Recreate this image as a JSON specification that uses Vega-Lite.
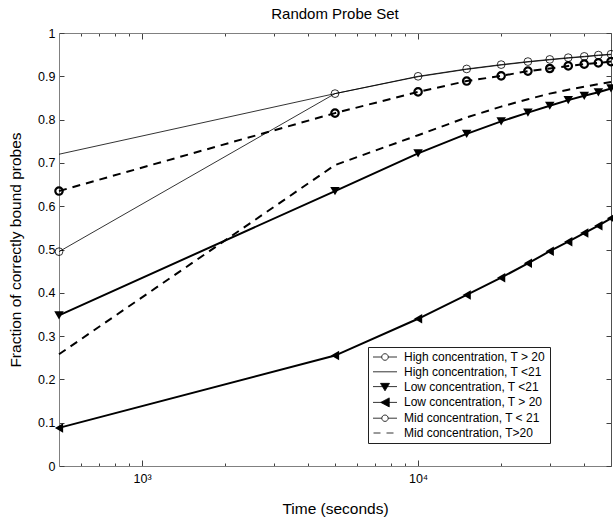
{
  "$schema": "https://vega.github.io/schema/vega-lite/v6.json",
  "width": 552,
  "height": 433,
  "autosize": {"type": "none"},
  "padding": {"left": 59, "top": 33, "right": 2, "bottom": 55},
  "background": "white",
  "config": {
    "font": "Liberation Sans",
    "view": {"stroke": null},
    "axis": {"grid": false, "labelColor": "black", "labelFontSize": 12.5, "titleColor": "black", "titleFontSize": 15.5, "titleFontWeight": "normal", "domainColor": "#808080", "tickColor": "#404040", "labelOverlap": false, "labelBound": false}
  },
  "title": {"text": "Random Probe Set", "fontSize": 15, "fontWeight": "normal", "color": "black", "offset": 5},
  "datasets": {
    "curves": [
      {"series": "High concentration, T > 20", "t": 500, "frac": 0.495},
      {"series": "High concentration, T > 20", "t": 5000, "frac": 0.86},
      {"series": "High concentration, T > 20", "t": 10000, "frac": 0.9},
      {"series": "High concentration, T > 20", "t": 15000, "frac": 0.917},
      {"series": "High concentration, T > 20", "t": 20000, "frac": 0.927},
      {"series": "High concentration, T > 20", "t": 25000, "frac": 0.934},
      {"series": "High concentration, T > 20", "t": 30000, "frac": 0.939},
      {"series": "High concentration, T > 20", "t": 35000, "frac": 0.943},
      {"series": "High concentration, T > 20", "t": 40000, "frac": 0.946},
      {"series": "High concentration, T > 20", "t": 45000, "frac": 0.949},
      {"series": "High concentration, T > 20", "t": 50000, "frac": 0.951},
      {"series": "High concentration, T <21", "t": 500, "frac": 0.72},
      {"series": "High concentration, T <21", "t": 5000, "frac": 0.86},
      {"series": "High concentration, T <21", "t": 10000, "frac": 0.899},
      {"series": "High concentration, T <21", "t": 15000, "frac": 0.916},
      {"series": "High concentration, T <21", "t": 20000, "frac": 0.926},
      {"series": "High concentration, T <21", "t": 25000, "frac": 0.933},
      {"series": "High concentration, T <21", "t": 30000, "frac": 0.938},
      {"series": "High concentration, T <21", "t": 35000, "frac": 0.942},
      {"series": "High concentration, T <21", "t": 40000, "frac": 0.945},
      {"series": "High concentration, T <21", "t": 45000, "frac": 0.948},
      {"series": "High concentration, T <21", "t": 50000, "frac": 0.95},
      {"series": "Low concentration, T <21", "t": 500, "frac": 0.348},
      {"series": "Low concentration, T <21", "t": 5000, "frac": 0.635},
      {"series": "Low concentration, T <21", "t": 10000, "frac": 0.722},
      {"series": "Low concentration, T <21", "t": 15000, "frac": 0.767},
      {"series": "Low concentration, T <21", "t": 20000, "frac": 0.796},
      {"series": "Low concentration, T <21", "t": 25000, "frac": 0.816},
      {"series": "Low concentration, T <21", "t": 30000, "frac": 0.832},
      {"series": "Low concentration, T <21", "t": 35000, "frac": 0.845},
      {"series": "Low concentration, T <21", "t": 40000, "frac": 0.855},
      {"series": "Low concentration, T <21", "t": 45000, "frac": 0.863},
      {"series": "Low concentration, T <21", "t": 50000, "frac": 0.872},
      {"series": "Low concentration, T > 20", "t": 500, "frac": 0.088},
      {"series": "Low concentration, T > 20", "t": 5000, "frac": 0.255},
      {"series": "Low concentration, T > 20", "t": 10000, "frac": 0.34},
      {"series": "Low concentration, T > 20", "t": 15000, "frac": 0.395},
      {"series": "Low concentration, T > 20", "t": 20000, "frac": 0.435},
      {"series": "Low concentration, T > 20", "t": 25000, "frac": 0.468},
      {"series": "Low concentration, T > 20", "t": 30000, "frac": 0.496},
      {"series": "Low concentration, T > 20", "t": 35000, "frac": 0.518},
      {"series": "Low concentration, T > 20", "t": 40000, "frac": 0.538},
      {"series": "Low concentration, T > 20", "t": 45000, "frac": 0.555},
      {"series": "Low concentration, T > 20", "t": 50000, "frac": 0.572},
      {"series": "Mid concentration, T < 21", "t": 500, "frac": 0.635},
      {"series": "Mid concentration, T < 21", "t": 5000, "frac": 0.815},
      {"series": "Mid concentration, T < 21", "t": 10000, "frac": 0.864},
      {"series": "Mid concentration, T < 21", "t": 15000, "frac": 0.889},
      {"series": "Mid concentration, T < 21", "t": 20000, "frac": 0.901},
      {"series": "Mid concentration, T < 21", "t": 25000, "frac": 0.912},
      {"series": "Mid concentration, T < 21", "t": 30000, "frac": 0.918},
      {"series": "Mid concentration, T < 21", "t": 35000, "frac": 0.924},
      {"series": "Mid concentration, T < 21", "t": 40000, "frac": 0.928},
      {"series": "Mid concentration, T < 21", "t": 45000, "frac": 0.931},
      {"series": "Mid concentration, T < 21", "t": 50000, "frac": 0.934},
      {"series": "Mid concentration, T>20", "t": 500, "frac": 0.258},
      {"series": "Mid concentration, T>20", "t": 5000, "frac": 0.695},
      {"series": "Mid concentration, T>20", "t": 10000, "frac": 0.764},
      {"series": "Mid concentration, T>20", "t": 15000, "frac": 0.805},
      {"series": "Mid concentration, T>20", "t": 20000, "frac": 0.83},
      {"series": "Mid concentration, T>20", "t": 25000, "frac": 0.847},
      {"series": "Mid concentration, T>20", "t": 30000, "frac": 0.86},
      {"series": "Mid concentration, T>20", "t": 35000, "frac": 0.869},
      {"series": "Mid concentration, T>20", "t": 40000, "frac": 0.876},
      {"series": "Mid concentration, T>20", "t": 45000, "frac": 0.882},
      {"series": "Mid concentration, T>20", "t": 50000, "frac": 0.887}
    ]
  },
  "data": {"name": "curves"},
  "layer": [
    {
      "transform": [{"filter": {"field": "series", "oneOf": ["High concentration, T > 20", "High concentration, T <21"]}}],
      "mark": {"type": "line", "color": "black", "strokeWidth": 0.8},
      "encoding": {
        "x": {
          "field": "t", "type": "quantitative",
          "scale": {"type": "log", "domain": [500, 50000], "nice": false},
          "axis": {
            "orient": "bottom",
            "values": [600, 700, 800, 900, 1000, 2000, 3000, 4000, 5000, 6000, 7000, 8000, 9000, 10000, 20000, 30000, 40000, 50000],
            "labelExpr": "datum.value === 1000 ? '10³' : datum.value === 10000 ? '10⁴' : ''",
            "tickSize": {"condition": {"test": "datum.value === 1000 || datum.value === 10000", "value": -6}, "value": -3},
            "labelPadding": 12,
            "title": "Time (seconds)",
            "titlePadding": 14
          }
        },
        "y": {
          "field": "frac", "type": "quantitative",
          "scale": {"domain": [0, 1], "nice": false},
          "axis": {
            "orient": "left",
            "values": [0, 0.1, 0.2, 0.3, 0.4, 0.5, 0.6, 0.7, 0.8, 0.9, 1],
            "format": "~g",
            "tickSize": -5,
            "labelPadding": 9,
            "title": "Fraction of correctly bound probes",
            "titlePadding": 14
          }
        },
        "detail": {"field": "series"}
      }
    },
    {
      "transform": [{"filter": {"field": "series", "oneOf": ["Low concentration, T <21", "Low concentration, T > 20"]}}],
      "mark": {"type": "line", "color": "black", "strokeWidth": 2},
      "encoding": {
        "x": {"field": "t", "type": "quantitative", "axis": null},
        "y": {"field": "frac", "type": "quantitative", "axis": null},
        "detail": {"field": "series"}
      }
    },
    {
      "transform": [{"filter": {"field": "series", "oneOf": ["Mid concentration, T < 21", "Mid concentration, T>20"]}}],
      "mark": {"type": "line", "color": "black", "strokeWidth": 2, "strokeDash": [8, 6]},
      "encoding": {
        "x": {"field": "t", "type": "quantitative", "axis": null},
        "y": {"field": "frac", "type": "quantitative", "axis": null},
        "detail": {"field": "series"}
      }
    },
    {
      "transform": [{"filter": {"field": "series", "equal": "High concentration, T > 20"}}],
      "mark": {"type": "point", "shape": "circle", "filled": false, "color": "black", "size": 60, "strokeWidth": 0.8, "opacity": 1},
      "encoding": {
        "x": {"field": "t", "type": "quantitative", "axis": null},
        "y": {"field": "frac", "type": "quantitative", "axis": null}
      }
    },
    {
      "transform": [{"filter": {"field": "series", "equal": "Mid concentration, T < 21"}}],
      "mark": {"type": "point", "shape": "circle", "filled": false, "color": "black", "size": 55, "strokeWidth": 2.2, "opacity": 1},
      "encoding": {
        "x": {"field": "t", "type": "quantitative", "axis": null},
        "y": {"field": "frac", "type": "quantitative", "axis": null}
      }
    },
    {
      "transform": [{"filter": {"field": "series", "equal": "Low concentration, T <21"}}],
      "mark": {"type": "point", "shape": "triangle-down", "filled": true, "color": "black", "size": 90, "opacity": 1},
      "encoding": {
        "x": {"field": "t", "type": "quantitative", "axis": null},
        "y": {"field": "frac", "type": "quantitative", "axis": null}
      }
    },
    {
      "transform": [{"filter": {"field": "series", "equal": "Low concentration, T > 20"}}],
      "mark": {"type": "point", "shape": "triangle-left", "filled": true, "color": "black", "size": 90, "opacity": 1},
      "encoding": {
        "x": {"field": "t", "type": "quantitative", "axis": null},
        "y": {"field": "frac", "type": "quantitative", "axis": null}
      }
    },
    {
      "transform": [{"filter": "datum.t < 0"}],
      "mark": {"type": "point", "filled": true, "opacity": 1},
      "encoding": {
        "x": {
          "field": "t", "type": "quantitative",
          "axis": {
            "orient": "top", "labels": false, "title": null,
            "values": [600, 700, 800, 900, 1000, 2000, 3000, 4000, 5000, 6000, 7000, 8000, 9000, 10000, 20000, 30000, 40000, 50000],
            "tickSize": {"condition": {"test": "datum.value === 1000 || datum.value === 10000", "value": -6}, "value": -3}
          }
        },
        "y": {
          "field": "frac", "type": "quantitative",
          "axis": {
            "orient": "right", "labels": false, "title": null, "domainColor": "#505050",
            "values": [0, 0.1, 0.2, 0.3, 0.4, 0.5, 0.6, 0.7, 0.8, 0.9, 1],
            "tickSize": -5
          }
        },
        "shape": {
          "field": "series", "type": "nominal",
          "scale": {
            "domain": ["High concentration, T > 20", "High concentration, T <21", "Low concentration, T <21", "Low concentration, T > 20", "Mid concentration, T < 21", "Mid concentration, T>20"],
            "range": [
              "M-1,0H0.74M2.06,0H3.8M0.74,0A0.66,0.66 0 1 0 2.06,0A0.66,0.66 0 1 0 0.74,0Z",
              "M-1,0H3.8",
              "M-1,0H3.8M0.5,-0.65L2.3,-0.65L1.4,0.85Z",
              "M-1,0H3.8M0.55,0L2.25,-0.9L2.25,0.9Z",
              "M-1,0H0.76M2.04,0H3.8M0.76,0A0.64,0.64 0 1 0 2.04,0A0.64,0.64 0 1 0 0.76,0Z",
              "M-0.9,0H0.5M1.7,0H3.1"
            ]
          },
          "legend": {
            "orient": "none", "legendX": 309, "legendY": 314,
            "title": null,
            "symbolSize": 100,
            "labelFontSize": 12,
            "labelColor": "black",
            "labelOffset": 20,
            "labelLimit": 300,
            "rowPadding": 2.8,
            "padding": 4,
            "strokeColor": "#202020",
            "fillColor": "white",
            "cornerRadius": 0
          }
        },
        "fill": {
          "field": "series", "type": "nominal",
          "scale": {
            "domain": ["High concentration, T > 20", "High concentration, T <21", "Low concentration, T <21", "Low concentration, T > 20", "Mid concentration, T < 21", "Mid concentration, T>20"],
            "range": ["white", "white", "black", "black", "white", "white"]
          }
        },
        "stroke": {
          "field": "series", "type": "nominal",
          "scale": {
            "domain": ["High concentration, T > 20", "High concentration, T <21", "Low concentration, T <21", "Low concentration, T > 20", "Mid concentration, T < 21", "Mid concentration, T>20"],
            "range": ["black", "black", "black", "black", "black", "black"]
          }
        },
        "strokeWidth": {
          "field": "series", "type": "nominal",
          "scale": {
            "domain": ["High concentration, T > 20", "High concentration, T <21", "Low concentration, T <21", "Low concentration, T > 20", "Mid concentration, T < 21", "Mid concentration, T>20"],
            "range": [0.8, 0.8, 2, 2, 2.2, 2]
          }
        }
      }
    }
  ],
  "resolve": {"axis": {"x": "independent", "y": "independent"}}
}
